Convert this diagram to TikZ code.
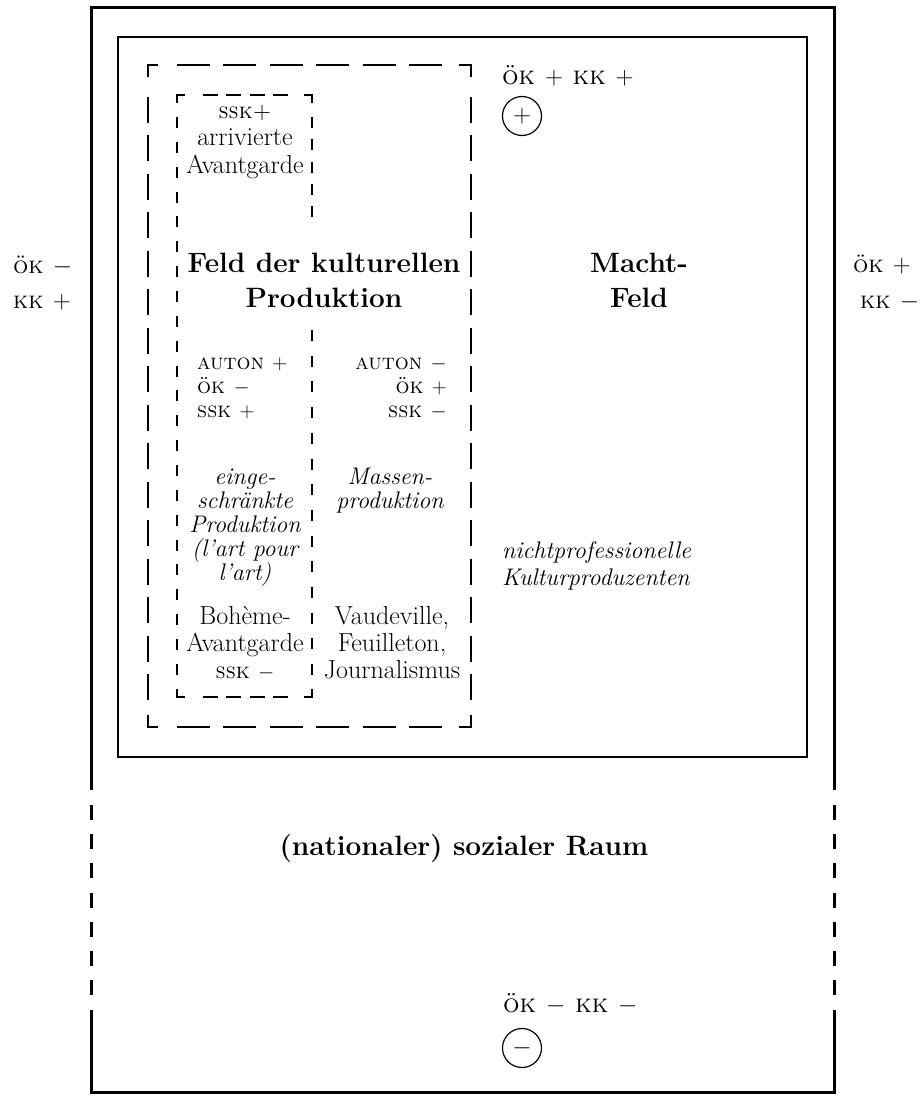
\documentclass[tikz,border=0pt]{standalone}
\begin{document}
\begin{tikzpicture}[x=1pt,y=-1pt,
  t/.style={font=\fontsize{26}{30}\selectfont, inner sep=0pt, anchor=base},
  ti/.style={t, font=\fontsize{24}{28}\selectfont\itshape},
  tb/.style={t, font=\fontsize{28}{32}\selectfont\bfseries},
  tsc/.style={t, font=\fontsize{22}{26}\selectfont\scshape},
  tside/.style={t, font=\fontsize{24}{28}\selectfont\scshape},
  tpole/.style={t, font=\fontsize{26}{30}\selectfont\scshape},
  frame/.style={line width=3pt},
  inframe/.style={line width=1.8pt},
  dsh/.style={line width=1.8pt},
  sign/.style={circle, draw, line width=1.2pt, minimum size=39pt, inner sep=0pt, font=\fontsize{24}{28}\selectfont}
]
\useasboundingbox (0,0) rectangle (919,1097);

% outer frame (sozialer Raum)
\draw[frame] (91,790) -- (91,8) -- (834,8) -- (834,790);
\draw[frame] (91,1010) -- (91,1092) -- (834,1092) -- (834,1010);
\draw[frame, dash pattern=on 15pt off 14.17pt] (91,805) -- (91,995);
\draw[frame, dash pattern=on 15pt off 14.17pt] (834,805) -- (834,995);

% inner frame (Macht-Feld)
\draw[inframe] (118,37) rectangle (807,757);

% big dashed box
\draw[dsh] (148,77) -- (148,65) -- (158,65);
\draw[dsh] (459,65) -- (471,65) -- (471,77);
\draw[dsh] (148,715) -- (148,727) -- (158,727);
\draw[dsh] (459,727) -- (471,727) -- (471,715);
\draw[dsh, dash pattern=on 33pt off 13.4pt] (177,65) -- (442,65);
\draw[dsh, dash pattern=on 33pt off 13.4pt] (177,727) -- (442,727);
\draw[dsh, dash pattern=on 26pt off 12.47pt] (148,97) -- (148,700);
\draw[dsh, dash pattern=on 26pt off 12.47pt] (471,97) -- (471,700);

% small dashed box
\draw[dsh] (177,103) -- (177,95) -- (185,95);
\draw[dsh] (304,95) -- (312,95) -- (312,103);
\draw[dsh] (177,689) -- (177,697) -- (185,697);
\draw[dsh] (304,697) -- (312,697) -- (312,689);
\draw[dsh, dash pattern=on 15pt off 8.33pt] (203,95) -- (288,95);
\draw[dsh, dash pattern=on 15pt off 8.33pt] (203,697) -- (288,697);
\draw[dsh, dash pattern=on 11pt off 13.86pt] (177,117) -- (177,675);
\draw[dsh, dash pattern=on 11pt off 11.25pt] (312,117) -- (312,217);
\draw[dsh, dash pattern=on 11pt off 14.7pt] (312,330) -- (312,675);

% small box top text
\node[tsc] (ssk1) at (245,118) {ssk+};
\node[t] (arr) at (245,146) {arrivierte};
\node[t] (avg1) at (245,173) {Avantgarde};

% titles
\node[tb] (feld1) at (324,272) {Feld der kulturellen};
\node[tb] (feld2) at (324,307) {Produktion};
\node[tb] (macht1) at (639,272) {Macht-};
\node[tb] (macht2) at (639,307) {Feld};

% capital indicators
\node[tsc, anchor=base west] (auton1) at (197,369) {auton $+$};
\node[tsc, anchor=base west] (oek1) at (197,393) {ök $-$};
\node[tsc, anchor=base west] (ssk2) at (197,417) {ssk $+$};
\node[tsc, anchor=base east] (auton2) at (447,369) {auton $-$};
\node[tsc, anchor=base east] (oek2) at (447,393) {ök $+$};
\node[tsc, anchor=base east] (ssk3) at (447,417) {ssk $-$};

% production types
\node[ti] (eing1) at (245,484) {einge-};
\node[ti] (eing2) at (245,508) {schränkte};
\node[ti] (eing3) at (245,532) {Produktion};
\node[ti] (eing4) at (245,556) {(l’art pour};
\node[ti] (eing5) at (245,580) {l’art)};
\node[ti] (mass1) at (390,484) {Massen-};
\node[ti] (mass2) at (390,508) {produktion};

\node[t] (boh1) at (245,624) {Bohème-};
\node[t] (boh2) at (245,651) {Avantgarde};
\node[tsc] (boh3) at (245,678) {ssk $-$};
\node[t] (vau1) at (392,624) {Vaudeville,};
\node[t] (vau2) at (392,651) {Feuilleton,};
\node[t] (vau3) at (392,678) {Journalismus};

\node[ti, anchor=base west] (nicht1) at (502,558) {nichtprofessionelle};
\node[ti, anchor=base west] (nicht2) at (502,585) {Kulturproduzenten};

% social space
\node[tb] (raum) at (464,855) {(nationaler) sozialer Raum};

% poles
\node[tpole, anchor=base west] (top) at (502,85) {ök $+$ kk $+$};
\node[sign] (plus) at (522,116) {$+$};
\node[tpole, anchor=base west] (bot) at (503,1012) {ök $-$ kk $-$};
\node[sign] (minus) at (522,1048) {$-$};

% side labels
\node[tside, anchor=base west] (l1) at (13,273) {ök $-$};
\node[tside, anchor=base west] (l2) at (13,308) {kk $+$};
\node[tside, anchor=base west] (r1) at (853,272) {ök $+$};
\node[tside, anchor=base west] (r2) at (860,308) {kk $-$};
\end{tikzpicture}
\end{document}
